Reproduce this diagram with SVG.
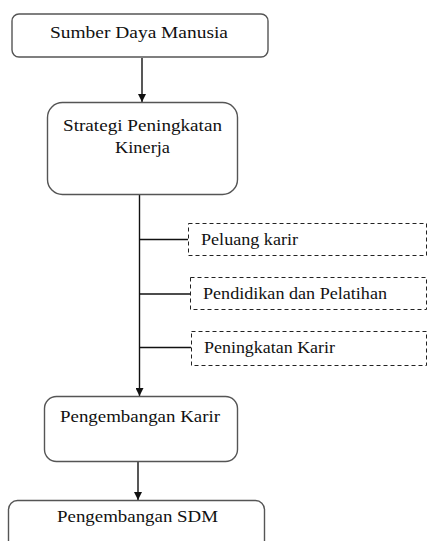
<svg xmlns="http://www.w3.org/2000/svg" width="427" height="541" viewBox="0 0 427 541">
<style>
.box{fill:#fff;stroke:#555;stroke-width:1.4}
.dbox{fill:#fff;stroke:#222;stroke-width:1;stroke-dasharray:4 3}
.ln{stroke:#111;stroke-width:1.4;fill:none}
text{font-family:"Liberation Serif","Times New Roman",serif;font-size:17px;fill:#111}
.s{font-size:16px}
</style>
<defs>
<marker id="ah" viewBox="0 0 10 10" refX="10" refY="5" markerWidth="8" markerHeight="8" markerUnits="userSpaceOnUse" orient="auto">
<path d="M0,0 L10,5 L0,10 z" fill="#111"/>
</marker>
</defs>
<rect width="427" height="541" fill="#fff"/>
<g id="connectors">
<line class="ln" x1="142" y1="58" x2="142" y2="102" marker-end="url(#ah)"/>
<line class="ln" x1="139.5" y1="195" x2="139.5" y2="396" marker-end="url(#ah)"/>
<line class="ln" x1="139.5" y1="239.5" x2="188" y2="239.5"/>
<line class="ln" x1="139.5" y1="294" x2="190" y2="294"/>
<line class="ln" x1="139.5" y1="347.5" x2="191" y2="347.5"/>
<line class="ln" x1="138" y1="462" x2="138" y2="500" marker-end="url(#ah)"/>
</g>
<g id="n1">
<rect class="box" x="12" y="14" width="256" height="43" rx="7"/>
<text x="50" y="38" textLength="178" lengthAdjust="spacingAndGlyphs">Sumber Daya Manusia</text>
</g>
<g id="n2">
<rect class="box" x="47.5" y="102.5" width="190" height="92" rx="15"/>
<text x="63" y="131" textLength="159" lengthAdjust="spacingAndGlyphs">Strategi Peningkatan</text>
<text x="115" y="153" textLength="55" lengthAdjust="spacingAndGlyphs">Kinerja</text>
</g>
<g id="d1">
<rect class="dbox" x="188.5" y="223.5" width="238" height="32"/>
<text class="s" x="201" y="245" textLength="97" lengthAdjust="spacingAndGlyphs">Peluang karir</text>
</g>
<g id="d2">
<rect class="dbox" x="190.5" y="277.5" width="236" height="32"/>
<text class="s" x="203" y="299" textLength="184" lengthAdjust="spacingAndGlyphs">Pendidikan dan Pelatihan</text>
</g>
<g id="d3">
<rect class="dbox" x="191.5" y="331.5" width="235" height="34"/>
<text class="s" x="204" y="353" textLength="131" lengthAdjust="spacingAndGlyphs">Peningkatan Karir</text>
</g>
<g id="n3">
<rect class="box" x="44.5" y="396.5" width="193" height="65" rx="12"/>
<text x="60" y="422" textLength="160" lengthAdjust="spacingAndGlyphs">Pengembangan Karir</text>
</g>
<g id="n4">
<rect class="box" x="8.5" y="500.5" width="256" height="50" rx="9"/>
<text x="57" y="522" textLength="161" lengthAdjust="spacingAndGlyphs">Pengembangan SDM</text>
</g>
</svg>
